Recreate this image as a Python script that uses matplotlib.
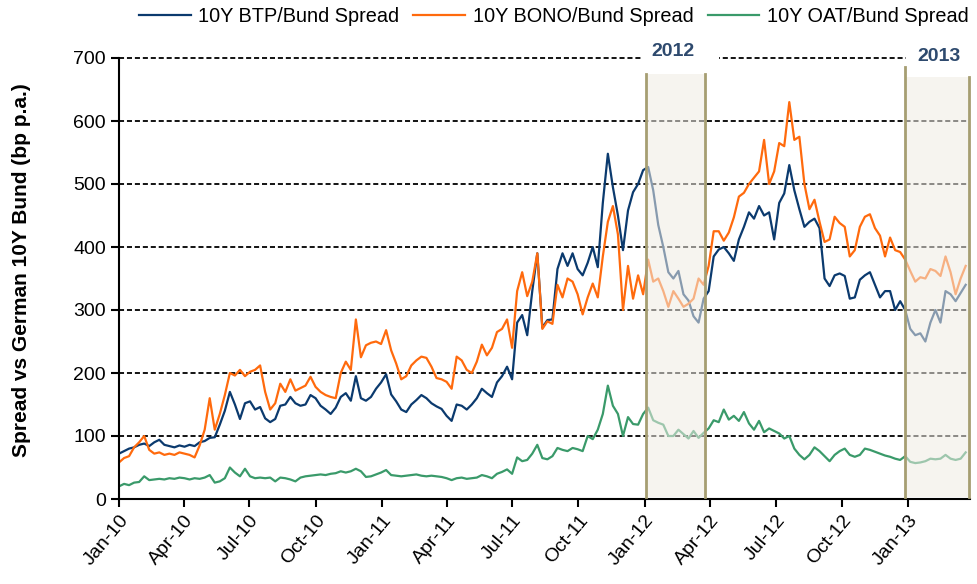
import pandas as pd
import matplotlib
matplotlib.use('Agg')
import matplotlib.pyplot as plt
import matplotlib.dates as mdates
from matplotlib.patches import Rectangle

plt.rcParams['font.family'] = ['Liberation Sans', 'DejaVu Sans']

# weekly observations, Jan-2010 .. Mar-2013 (bp)
dates = pd.date_range('2010-01-01', periods=169, freq='7D')

btp = [72, 76, 80, 82, 86, 88, 84, 90, 94, 86, 84, 82, 85, 83, 86, 84, 90, 92, 97, 98,
       118, 140, 170, 150, 127, 152, 155, 142, 146,
       128, 122, 127, 148, 150, 162, 152, 148, 150, 165, 160, 148, 142, 135, 145, 162,
       168, 156, 195, 160, 156, 162, 175, 185, 198, 166, 155,
       142, 138, 150, 157, 165, 160, 152, 147, 143, 132, 124, 150, 148, 142, 150, 160,
       175, 168, 162, 185, 195, 210, 190, 280, 292, 260, 330, 390,
       272, 284, 285, 365, 390, 370, 390, 365, 355, 375, 400, 368, 470, 548, 495, 450,
       395, 458, 487, 500,
       522, 527, 490, 435, 400, 360, 350, 362, 325, 315, 290, 280, 318,
       330, 385, 396, 400, 390, 378, 412, 432, 455, 445, 465, 450, 455, 412, 470, 485,
       530, 490, 460, 432,
       440, 445, 430, 350, 338, 355, 358, 354, 318, 320, 348, 355, 360, 340, 320, 330,
       330, 300, 314, 300, 270, 260, 263, 250, 280, 300, 280, 330, 325, 314, 327, 340]

bono = [58, 65, 68, 82, 90, 100, 78, 72, 74, 70, 72, 70, 74, 72, 70, 66, 85, 110, 160, 110,
        135, 165, 200, 196, 205, 195, 202, 205, 212,
        170, 142, 152, 183, 170, 190, 172, 176, 180, 194, 178, 170, 165, 162, 160, 200,
        218, 205, 285, 225, 244, 248, 250, 246, 268, 236, 215,
        190, 195, 212, 220, 226, 224, 210, 192, 190, 186, 175, 226, 220, 205, 200, 218,
        245, 228, 240, 265, 270, 285, 240, 330, 360, 322, 345, 390,
        270, 282, 278, 340, 320, 350, 345, 325, 293, 320, 342, 320, 385, 440, 465, 420,
        300, 370, 318, 355,
        325, 380, 345, 350, 330, 305, 330, 318, 305, 310, 318, 350, 340,
        370, 425, 425, 410, 423, 447, 480, 486, 500, 510, 520, 570, 500, 520, 565, 560,
        630, 570, 575, 500,
        460, 475, 440, 408, 412, 448, 438, 432, 385, 395, 432, 448, 452, 430, 418, 385,
        415, 395, 392, 380, 362, 345, 352, 350, 365, 362, 354, 385, 360, 325, 350, 370]

oat = [20, 24, 22, 26, 27, 36, 30, 31, 32, 31, 33, 32, 34, 33, 31, 33, 32, 34, 38, 26,
       28, 33, 50, 42, 36, 48, 36, 33, 34,
       33, 34, 28, 34, 33, 31, 28, 34, 36, 37, 38, 39, 38, 40, 41, 44, 42, 44, 48, 44,
       35, 36, 39, 42, 46, 38, 37,
       36, 37, 38, 39, 37, 36, 37, 36, 35, 33, 30, 33, 34, 32, 33, 34, 38, 36, 33, 40,
       43, 47, 40, 66, 60, 62, 72, 86,
       65, 63, 68, 81, 78, 76, 81, 79, 76, 100, 95, 110, 135, 180, 148, 135, 100, 130,
       119, 118, 135, 145, 125, 121,
       118, 100, 100, 110, 103, 96, 108, 97, 105, 112, 125, 122, 142, 126, 132, 124,
       138, 120, 110, 124, 106, 112, 108, 104, 96, 100, 80, 70, 63,
       70, 82, 76, 68, 60, 70, 76, 80, 70, 67, 70, 80, 78, 75, 72, 69, 67, 64, 62, 68,
       59, 57, 58, 60, 64, 63, 64, 70, 64, 62, 64, 74]

series = [('10Y BTP/Bund Spread', btp, '#0B3A6E'),
          ('10Y BONO/Bund Spread', bono, '#FF6A0D'),
          ('10Y OAT/Bund Spread', oat, '#3A9A6A')]

# shaded windows: (start, end, top of box, label)
windows = [('2012-01-03', '2012-03-25', 675, '2012'),
           ('2012-12-28', '2013-03-27', 670, '2013')]

fig = plt.figure(figsize=(9.77, 5.84), dpi=100)
ax = fig.add_axes([119 / 977, 1 - 499 / 584, 851 / 977, 441 / 584])

for name, vals, col in series:
    ax.plot(dates, vals, color=col, lw=1.6, label=name, zorder=2)

ax.set_ylim(0, 700)
ax.set_yticks(range(0, 701, 100))
ax.set_xlim(pd.Timestamp('2010-01-01'), pd.Timestamp('2013-03-28'))
ax.xaxis.set_major_locator(mdates.MonthLocator(bymonth=[1, 4, 7, 10]))
ax.xaxis.set_major_formatter(mdates.DateFormatter('%b-%y'))

ax.grid(axis='y', color='black', linestyle=(0, (2.8, 1.6)), lw=1.3, zorder=1)
for gl in ax.get_ygridlines():
    gl.set_clip_on(False)
ax.set_axisbelow(True)
for s in ['top', 'right']:
    ax.spines[s].set_visible(False)
for s in ['left', 'bottom']:
    ax.spines[s].set_linewidth(1.5)
ax.tick_params(axis='both', labelsize=14, length=6, width=1.5, direction='out')
plt.setp(ax.get_xticklabels(), rotation=50, ha='right', rotation_mode='anchor')

for start, end, top, lab in windows:
    x0, x1 = mdates.date2num(pd.Timestamp(start)), mdates.date2num(pd.Timestamp(end))
    ax.add_patch(Rectangle((x0, 3), x1 - x0, top - 3, facecolor='#EFEBE3',
                           alpha=0.55, edgecolor='none', zorder=3))
    ax.plot([x0, x0], [3, top + (16 if lab == '2013' else 0)], color='#A69E72', lw=2,
            zorder=4, clip_on=False)
    ax.plot([x1, x1], [3, top], color='#A69E72', lw=2, zorder=4, clip_on=False)
    # white patch hiding the top gridline behind the year label
    if lab == '2012':
        wx0, wx1 = mdates.date2num(pd.Timestamp('2011-12-28')), mdates.date2num(pd.Timestamp('2012-04-14'))
    else:
        wx0, wx1 = x0 + 1, mdates.date2num(pd.Timestamp('2013-04-20'))
    ax.add_patch(Rectangle((wx0, 690), wx1 - wx0, 40, facecolor='white',
                           edgecolor='none', zorder=5, clip_on=False))
    ax.text((x0 + x1) / 2 - (4 if lab == '2012' else -2), 710 if lab == '2012' else 703,
            lab, ha='center', va='center', fontsize=14, fontweight='bold',
            color='#2E4A6E', zorder=6, clip_on=False)

fig.text(22 / 977, 1 - 270 / 584, 'Spread vs German 10Y Bund (bp p.a.)', rotation=90,
         ha='center', va='center', fontsize=15, fontweight='bold')

ax.legend(loc='center', bbox_to_anchor=(0.567, 0.971), bbox_transform=fig.transFigure,
          ncol=3, frameon=False, fontsize=14.3, handlelength=2.6, handletextpad=0.4,
          columnspacing=0.7, borderaxespad=0)

fig.savefig('out.png', dpi=100)
